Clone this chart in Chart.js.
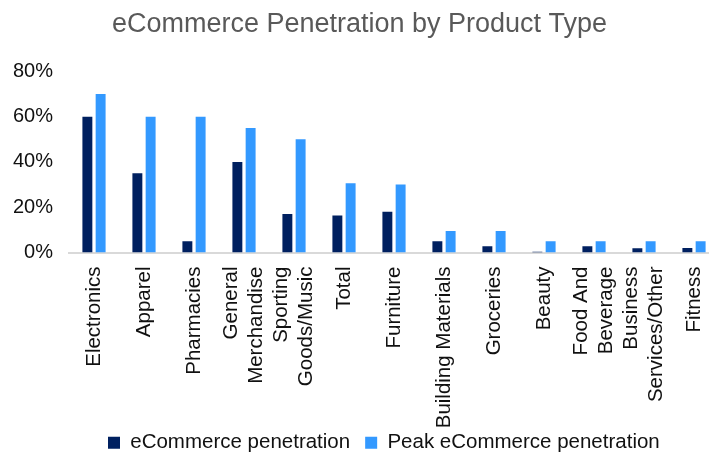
<!DOCTYPE html>
<html>
<head>
<meta charset="utf-8">
<script src="https://cdn.jsdelivr.net/npm/chart.js@4/dist/chart.umd.min.js"></script>
<style>
  html, body { margin: 0; padding: 0; background: #fff; overflow: hidden; }
  #wrap { width: 709px; height: 455px; overflow: hidden; }
  #c { display: block; }
</style>
</head>
<body>
<div id="wrap"><canvas id="c" width="729" height="455"></canvas></div>
<script>
const categories = [
  "Electronics", "Apparel", "Pharmacies", ["General", "Merchandise"],
  ["Sporting", "Goods/Music"], "Total", "Furniture", "Building Materials",
  "Groceries", "Beauty", ["Food And", "Beverage"], ["Business", "Services/Other"], "Fitness"
];
const ecommercePenetration = [60, 35, 5, 40, 17, 16.3, 18, 5, 2.8, 0.3, 2.8, 1.9, 2];
const peakPenetration = [70, 60, 60, 55, 50, 30.6, 30, 9.5, 9.5, 5, 5, 5, 5];
const yTicks = [0, 20, 40, 60, 80];

const FONT = "'Liberation Sans', Arial, sans-serif";

// center multi-line rotated category labels on their tick
const centerMultiline = {
  id: 'centerMultiline',
  beforeDraw(chart) {
    const s = chart.scales.x;
    s.getLabelItems().forEach(it => {
      if (Array.isArray(it.label) && !it._centered) {
        it.textOffset -= (it.label.length - 1) * it.font.lineHeight / 2;
        it._centered = true;
      }
    });
  }
};

// place the legend row like the reference; let long category labels run past the axis box
const legendPlace = {
  id: 'legendPlace',
  afterLayout(chart) {
    const l = chart.legend;
    if (l) {
      const w = l.right - l.left;
      l.left = 93;
      l.right = 93 + w;
    }
    chart.scales.x._computeLabelArea = () => undefined;
  }
};

new Chart(document.getElementById('c'), {
  type: 'bar',
  data: {
    labels: categories,
    datasets: [
      { label: 'eCommerce penetration', data: ecommercePenetration, backgroundColor: '#002060',
        barPercentage: 0.75, categoryPercentage: 0.53 },
      { label: 'Peak eCommerce penetration', data: peakPenetration, backgroundColor: '#3399FF',
        barPercentage: 0.75, categoryPercentage: 0.53 }
    ]
  },
  plugins: [centerMultiline, legendPlace],
  options: {
    responsive: false,
    animation: false,
    layout: { padding: { left: 0, right: 10, top: 0, bottom: -8 } },
    plugins: {
      title: {
        display: true,
        text: 'eCommerce Penetration by Product Type',
        color: '#595959',
        font: { family: FONT, size: 27, weight: 'normal' },
        padding: { top: 8, bottom: 31 }
      },
      legend: {
        position: 'bottom',
        align: 'start',
        labels: {
          color: '#111',
          font: { family: FONT, size: 20.5 },
          boxWidth: 12, boxHeight: 12, padding: 15
        }
      },
      tooltip: { enabled: false }
    },
    scales: {
      x: {
        grid: { display: false, drawTicks: false },
        border: { display: true, color: '#d9d9d9', width: 2 },
        ticks: {
          color: '#111', font: { family: FONT, size: 20.5 },
          minRotation: 90, maxRotation: 90, autoSkip: false, padding: 14
        },
        afterFit: (s) => { s.height = 165; s.paddingLeft = 0; s.paddingRight = 0; }
      },
      y: {
        min: 0, max: 80,
        grid: { display: false, drawTicks: false },
        border: { display: false },
        afterBuildTicks: (s) => { s.ticks = yTicks.map(v => ({ value: v })); },
        ticks: {
          color: '#111', font: { family: FONT, size: 20 }, padding: 16,
          callback: (v) => v + '%'
        },
        afterFit: (s) => { s.width = 69; }
      }
    }
  }
});
</script>
</body>
</html>
